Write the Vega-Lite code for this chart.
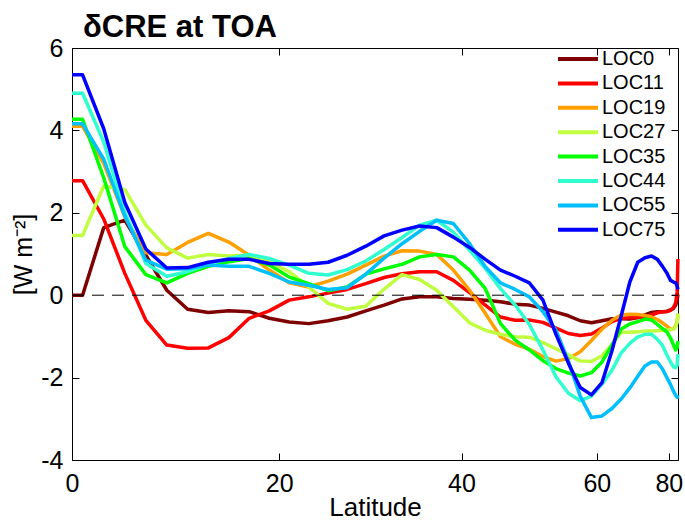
{
"$schema": "https://vega.github.io/schema/vega-lite/v6.json",
"width": 606, "height": 412,
"autosize": {"type": "none"},
"padding": {"left": 72, "top": 48, "right": 7, "bottom": 61},
"background": "white",
"title": {"text": "δCRE at TOA", "anchor": "start", "frame": "group", "dx": 11, "dy": 43, "offset": 11, "fontSize": 31, "font": "Liberation Sans", "fontWeight": "bold", "color": "black", "baseline": "alphabetic"},
"data": {"values": [
{"k":"LOC0","lat":0,"v":0.0},{"k":"LOC0","lat":1,"v":0.0},{"k":"LOC0","lat":3,"v":1.64},{"k":"LOC0","lat":5,"v":1.82},{"k":"LOC0","lat":7,"v":0.97},{"k":"LOC0","lat":9,"v":0.12},{"k":"LOC0","lat":11,"v":-0.34},{"k":"LOC0","lat":13,"v":-0.42},{"k":"LOC0","lat":15,"v":-0.38},{"k":"LOC0","lat":17,"v":-0.40},{"k":"LOC0","lat":19,"v":-0.56},{"k":"LOC0","lat":21,"v":-0.65},{"k":"LOC0","lat":23,"v":-0.69},{"k":"LOC0","lat":25,"v":-0.62},{"k":"LOC0","lat":27,"v":-0.53},{"k":"LOC0","lat":29,"v":-0.38},{"k":"LOC0","lat":31,"v":-0.24},{"k":"LOC0","lat":33,"v":-0.09},{"k":"LOC0","lat":35,"v":-0.04},{"k":"LOC0","lat":37,"v":-0.04},{"k":"LOC0","lat":39,"v":-0.08},{"k":"LOC0","lat":41,"v":-0.10},{"k":"LOC0","lat":43,"v":-0.12},{"k":"LOC0","lat":45,"v":-0.16},{"k":"LOC0","lat":47,"v":-0.22},{"k":"LOC0","lat":49,"v":-0.24},{"k":"LOC0","lat":51,"v":-0.32},{"k":"LOC0","lat":53,"v":-0.41},{"k":"LOC0","lat":55,"v":-0.50},{"k":"LOC0","lat":57,"v":-0.62},{"k":"LOC0","lat":59,"v":-0.67},{"k":"LOC0","lat":61,"v":-0.62},{"k":"LOC0","lat":63,"v":-0.57},{"k":"LOC0","lat":65,"v":-0.57},{"k":"LOC0","lat":67,"v":-0.58},{"k":"LOC0","lat":69,"v":-0.54},{"k":"LOC0","lat":71,"v":-0.48},{"k":"LOC0","lat":73,"v":-0.42},{"k":"LOC0","lat":75,"v":-0.40},{"k":"LOC0","lat":77,"v":-0.40},{"k":"LOC0","lat":79,"v":-0.39},{"k":"LOC0","lat":81,"v":-0.36},{"k":"LOC0","lat":83,"v":-0.32},{"k":"LOC0","lat":85,"v":-0.24},{"k":"LOC0","lat":87,"v":-0.12},{"k":"LOC0","lat":89,"v":0.02},
{"k":"LOC11","lat":0,"v":2.78},{"k":"LOC11","lat":1,"v":2.78},{"k":"LOC11","lat":3,"v":1.85},{"k":"LOC11","lat":5,"v":0.53},{"k":"LOC11","lat":7,"v":-0.61},{"k":"LOC11","lat":9,"v":-1.21},{"k":"LOC11","lat":11,"v":-1.29},{"k":"LOC11","lat":13,"v":-1.28},{"k":"LOC11","lat":15,"v":-1.03},{"k":"LOC11","lat":17,"v":-0.56},{"k":"LOC11","lat":19,"v":-0.38},{"k":"LOC11","lat":21,"v":-0.12},{"k":"LOC11","lat":23,"v":-0.04},{"k":"LOC11","lat":25,"v":0.05},{"k":"LOC11","lat":27,"v":0.14},{"k":"LOC11","lat":29,"v":0.28},{"k":"LOC11","lat":31,"v":0.43},{"k":"LOC11","lat":33,"v":0.52},{"k":"LOC11","lat":35,"v":0.57},{"k":"LOC11","lat":37,"v":0.57},{"k":"LOC11","lat":39,"v":0.36},{"k":"LOC11","lat":41,"v":0.06},{"k":"LOC11","lat":43,"v":-0.24},{"k":"LOC11","lat":45,"v":-0.53},{"k":"LOC11","lat":47,"v":-0.61},{"k":"LOC11","lat":49,"v":-0.60},{"k":"LOC11","lat":51,"v":-0.66},{"k":"LOC11","lat":53,"v":-0.80},{"k":"LOC11","lat":55,"v":-0.93},{"k":"LOC11","lat":57,"v":-0.98},{"k":"LOC11","lat":59,"v":-0.94},{"k":"LOC11","lat":61,"v":-0.80},{"k":"LOC11","lat":63,"v":-0.64},{"k":"LOC11","lat":65,"v":-0.56},{"k":"LOC11","lat":67,"v":-0.55},{"k":"LOC11","lat":69,"v":-0.54},{"k":"LOC11","lat":71,"v":-0.53},{"k":"LOC11","lat":73,"v":-0.48},{"k":"LOC11","lat":75,"v":-0.43},{"k":"LOC11","lat":77,"v":-0.40},{"k":"LOC11","lat":79,"v":-0.40},{"k":"LOC11","lat":81,"v":-0.37},{"k":"LOC11","lat":83,"v":-0.30},{"k":"LOC11","lat":85,"v":-0.18},{"k":"LOC11","lat":87,"v":0.08},{"k":"LOC11","lat":89,"v":0.88},
{"k":"LOC19","lat":0,"v":4.10},{"k":"LOC19","lat":1,"v":4.10},{"k":"LOC19","lat":3,"v":3.20},{"k":"LOC19","lat":5,"v":1.90},{"k":"LOC19","lat":7,"v":1.03},{"k":"LOC19","lat":9,"v":0.99},{"k":"LOC19","lat":11,"v":1.28},{"k":"LOC19","lat":13,"v":1.50},{"k":"LOC19","lat":15,"v":1.29},{"k":"LOC19","lat":17,"v":0.97},{"k":"LOC19","lat":19,"v":0.61},{"k":"LOC19","lat":21,"v":0.30},{"k":"LOC19","lat":23,"v":0.20},{"k":"LOC19","lat":25,"v":0.34},{"k":"LOC19","lat":27,"v":0.51},{"k":"LOC19","lat":29,"v":0.73},{"k":"LOC19","lat":31,"v":0.95},{"k":"LOC19","lat":33,"v":1.08},{"k":"LOC19","lat":35,"v":1.07},{"k":"LOC19","lat":37,"v":0.99},{"k":"LOC19","lat":39,"v":0.61},{"k":"LOC19","lat":41,"v":0.12},{"k":"LOC19","lat":43,"v":-0.44},{"k":"LOC19","lat":45,"v":-1.01},{"k":"LOC19","lat":47,"v":-1.19},{"k":"LOC19","lat":49,"v":-1.31},{"k":"LOC19","lat":51,"v":-1.49},{"k":"LOC19","lat":53,"v":-1.60},{"k":"LOC19","lat":55,"v":-1.54},{"k":"LOC19","lat":57,"v":-1.37},{"k":"LOC19","lat":59,"v":-1.10},{"k":"LOC19","lat":61,"v":-0.82},{"k":"LOC19","lat":63,"v":-0.61},{"k":"LOC19","lat":65,"v":-0.48},{"k":"LOC19","lat":67,"v":-0.46},{"k":"LOC19","lat":69,"v":-0.47},{"k":"LOC19","lat":71,"v":-0.49},{"k":"LOC19","lat":73,"v":-0.53},{"k":"LOC19","lat":75,"v":-0.59},{"k":"LOC19","lat":77,"v":-0.67},{"k":"LOC19","lat":79,"v":-0.75},{"k":"LOC19","lat":81,"v":-0.83},{"k":"LOC19","lat":83,"v":-0.82},{"k":"LOC19","lat":85,"v":-0.74},{"k":"LOC19","lat":87,"v":-0.63},{"k":"LOC19","lat":89,"v":-0.50},
{"k":"LOC27","lat":0,"v":1.45},{"k":"LOC27","lat":1,"v":1.45},{"k":"LOC27","lat":3,"v":2.65},{"k":"LOC27","lat":5,"v":2.56},{"k":"LOC27","lat":7,"v":1.70},{"k":"LOC27","lat":9,"v":1.15},{"k":"LOC27","lat":11,"v":0.90},{"k":"LOC27","lat":13,"v":0.99},{"k":"LOC27","lat":15,"v":0.95},{"k":"LOC27","lat":17,"v":0.97},{"k":"LOC27","lat":19,"v":0.81},{"k":"LOC27","lat":21,"v":0.57},{"k":"LOC27","lat":23,"v":0.20},{"k":"LOC27","lat":25,"v":-0.20},{"k":"LOC27","lat":27,"v":-0.34},{"k":"LOC27","lat":29,"v":-0.27},{"k":"LOC27","lat":31,"v":0.15},{"k":"LOC27","lat":33,"v":0.50},{"k":"LOC27","lat":35,"v":0.38},{"k":"LOC27","lat":37,"v":0.12},{"k":"LOC27","lat":39,"v":-0.28},{"k":"LOC27","lat":41,"v":-0.67},{"k":"LOC27","lat":43,"v":-0.85},{"k":"LOC27","lat":45,"v":-0.95},{"k":"LOC27","lat":47,"v":-1.01},{"k":"LOC27","lat":49,"v":-1.02},{"k":"LOC27","lat":51,"v":-1.15},{"k":"LOC27","lat":53,"v":-1.30},{"k":"LOC27","lat":55,"v":-1.45},{"k":"LOC27","lat":57,"v":-1.60},{"k":"LOC27","lat":59,"v":-1.61},{"k":"LOC27","lat":61,"v":-1.47},{"k":"LOC27","lat":63,"v":-1.20},{"k":"LOC27","lat":65,"v":-0.90},{"k":"LOC27","lat":67,"v":-0.90},{"k":"LOC27","lat":69,"v":-0.89},{"k":"LOC27","lat":71,"v":-0.87},{"k":"LOC27","lat":73,"v":-0.87},{"k":"LOC27","lat":75,"v":-0.86},{"k":"LOC27","lat":77,"v":-0.85},{"k":"LOC27","lat":79,"v":-0.84},{"k":"LOC27","lat":81,"v":-0.83},{"k":"LOC27","lat":83,"v":-0.82},{"k":"LOC27","lat":85,"v":-0.77},{"k":"LOC27","lat":87,"v":-0.65},{"k":"LOC27","lat":89,"v":-0.44},
{"k":"LOC35","lat":0,"v":4.27},{"k":"LOC35","lat":1,"v":4.27},{"k":"LOC35","lat":3,"v":2.85},{"k":"LOC35","lat":5,"v":1.18},{"k":"LOC35","lat":7,"v":0.50},{"k":"LOC35","lat":9,"v":0.30},{"k":"LOC35","lat":11,"v":0.53},{"k":"LOC35","lat":13,"v":0.70},{"k":"LOC35","lat":15,"v":0.81},{"k":"LOC35","lat":17,"v":0.89},{"k":"LOC35","lat":19,"v":0.73},{"k":"LOC35","lat":21,"v":0.44},{"k":"LOC35","lat":23,"v":0.28},{"k":"LOC35","lat":25,"v":0.11},{"k":"LOC35","lat":27,"v":0.20},{"k":"LOC35","lat":29,"v":0.51},{"k":"LOC35","lat":31,"v":0.64},{"k":"LOC35","lat":33,"v":0.75},{"k":"LOC35","lat":35,"v":0.93},{"k":"LOC35","lat":37,"v":0.99},{"k":"LOC35","lat":39,"v":0.93},{"k":"LOC35","lat":41,"v":0.61},{"k":"LOC35","lat":43,"v":0.16},{"k":"LOC35","lat":45,"v":-0.69},{"k":"LOC35","lat":47,"v":-1.09},{"k":"LOC35","lat":49,"v":-1.33},{"k":"LOC35","lat":51,"v":-1.59},{"k":"LOC35","lat":53,"v":-1.78},{"k":"LOC35","lat":55,"v":-1.89},{"k":"LOC35","lat":57,"v":-1.96},{"k":"LOC35","lat":59,"v":-1.88},{"k":"LOC35","lat":61,"v":-1.62},{"k":"LOC35","lat":63,"v":-1.21},{"k":"LOC35","lat":65,"v":-0.82},{"k":"LOC35","lat":67,"v":-0.70},{"k":"LOC35","lat":69,"v":-0.64},{"k":"LOC35","lat":71,"v":-0.58},{"k":"LOC35","lat":73,"v":-0.60},{"k":"LOC35","lat":75,"v":-0.71},{"k":"LOC35","lat":77,"v":-0.81},{"k":"LOC35","lat":79,"v":-0.89},{"k":"LOC35","lat":81,"v":-1.04},{"k":"LOC35","lat":83,"v":-1.21},{"k":"LOC35","lat":85,"v":-1.33},{"k":"LOC35","lat":87,"v":-1.27},{"k":"LOC35","lat":89,"v":-1.11},
{"k":"LOC44","lat":0,"v":4.90},{"k":"LOC44","lat":1,"v":4.90},{"k":"LOC44","lat":3,"v":3.72},{"k":"LOC44","lat":5,"v":2.02},{"k":"LOC44","lat":7,"v":0.77},{"k":"LOC44","lat":9,"v":0.46},{"k":"LOC44","lat":11,"v":0.57},{"k":"LOC44","lat":13,"v":0.75},{"k":"LOC44","lat":15,"v":0.89},{"k":"LOC44","lat":17,"v":0.99},{"k":"LOC44","lat":19,"v":0.89},{"k":"LOC44","lat":21,"v":0.73},{"k":"LOC44","lat":23,"v":0.53},{"k":"LOC44","lat":25,"v":0.49},{"k":"LOC44","lat":27,"v":0.62},{"k":"LOC44","lat":29,"v":0.83},{"k":"LOC44","lat":31,"v":1.11},{"k":"LOC44","lat":33,"v":1.40},{"k":"LOC44","lat":35,"v":1.70},{"k":"LOC44","lat":37,"v":1.82},{"k":"LOC44","lat":39,"v":1.53},{"k":"LOC44","lat":41,"v":1.09},{"k":"LOC44","lat":43,"v":0.65},{"k":"LOC44","lat":45,"v":0.16},{"k":"LOC44","lat":47,"v":-0.24},{"k":"LOC44","lat":49,"v":-0.71},{"k":"LOC44","lat":51,"v":-1.33},{"k":"LOC44","lat":53,"v":-1.98},{"k":"LOC44","lat":55,"v":-2.38},{"k":"LOC44","lat":57,"v":-2.56},{"k":"LOC44","lat":59,"v":-2.45},{"k":"LOC44","lat":61,"v":-2.16},{"k":"LOC44","lat":63,"v":-1.82},{"k":"LOC44","lat":65,"v":-1.40},{"k":"LOC44","lat":67,"v":-1.17},{"k":"LOC44","lat":69,"v":-1.01},{"k":"LOC44","lat":71,"v":-0.95},{"k":"LOC44","lat":73,"v":-0.95},{"k":"LOC44","lat":75,"v":-1.07},{"k":"LOC44","lat":77,"v":-1.22},{"k":"LOC44","lat":79,"v":-1.45},{"k":"LOC44","lat":81,"v":-1.62},{"k":"LOC44","lat":83,"v":-1.74},{"k":"LOC44","lat":85,"v":-1.76},{"k":"LOC44","lat":87,"v":-1.70},{"k":"LOC44","lat":89,"v":-1.43},
{"k":"LOC55","lat":0,"v":4.16},{"k":"LOC55","lat":1,"v":4.16},{"k":"LOC55","lat":3,"v":3.30},{"k":"LOC55","lat":5,"v":1.92},{"k":"LOC55","lat":7,"v":0.85},{"k":"LOC55","lat":9,"v":0.63},{"k":"LOC55","lat":11,"v":0.64},{"k":"LOC55","lat":13,"v":0.73},{"k":"LOC55","lat":15,"v":0.70},{"k":"LOC55","lat":17,"v":0.70},{"k":"LOC55","lat":19,"v":0.53},{"k":"LOC55","lat":21,"v":0.32},{"k":"LOC55","lat":23,"v":0.24},{"k":"LOC55","lat":25,"v":0.14},{"k":"LOC55","lat":27,"v":0.18},{"k":"LOC55","lat":29,"v":0.51},{"k":"LOC55","lat":31,"v":0.90},{"k":"LOC55","lat":33,"v":1.25},{"k":"LOC55","lat":35,"v":1.55},{"k":"LOC55","lat":37,"v":1.82},{"k":"LOC55","lat":39,"v":1.74},{"k":"LOC55","lat":41,"v":1.25},{"k":"LOC55","lat":43,"v":0.69},{"k":"LOC55","lat":45,"v":0.30},{"k":"LOC55","lat":47,"v":0.14},{"k":"LOC55","lat":49,"v":-0.04},{"k":"LOC55","lat":51,"v":-0.40},{"k":"LOC55","lat":53,"v":-0.85},{"k":"LOC55","lat":55,"v":-1.60},{"k":"LOC55","lat":57,"v":-2.45},{"k":"LOC55","lat":59,"v":-2.97},{"k":"LOC55","lat":61,"v":-2.93},{"k":"LOC55","lat":63,"v":-2.75},{"k":"LOC55","lat":65,"v":-2.52},{"k":"LOC55","lat":67,"v":-2.25},{"k":"LOC55","lat":69,"v":-1.97},{"k":"LOC55","lat":71,"v":-1.72},{"k":"LOC55","lat":73,"v":-1.62},{"k":"LOC55","lat":75,"v":-1.62},{"k":"LOC55","lat":77,"v":-1.79},{"k":"LOC55","lat":79,"v":-2.00},{"k":"LOC55","lat":81,"v":-2.17},{"k":"LOC55","lat":83,"v":-2.33},{"k":"LOC55","lat":85,"v":-2.43},{"k":"LOC55","lat":87,"v":-2.48},{"k":"LOC55","lat":89,"v":-2.42},
{"k":"LOC75","lat":0,"v":5.35},{"k":"LOC75","lat":1,"v":5.35},{"k":"LOC75","lat":3,"v":4.04},{"k":"LOC75","lat":5,"v":2.25},{"k":"LOC75","lat":7,"v":1.12},{"k":"LOC75","lat":9,"v":0.66},{"k":"LOC75","lat":11,"v":0.67},{"k":"LOC75","lat":13,"v":0.80},{"k":"LOC75","lat":15,"v":0.87},{"k":"LOC75","lat":17,"v":0.87},{"k":"LOC75","lat":19,"v":0.77},{"k":"LOC75","lat":21,"v":0.75},{"k":"LOC75","lat":23,"v":0.75},{"k":"LOC75","lat":25,"v":0.80},{"k":"LOC75","lat":27,"v":0.97},{"k":"LOC75","lat":29,"v":1.19},{"k":"LOC75","lat":31,"v":1.44},{"k":"LOC75","lat":33,"v":1.58},{"k":"LOC75","lat":35,"v":1.68},{"k":"LOC75","lat":37,"v":1.64},{"k":"LOC75","lat":39,"v":1.41},{"k":"LOC75","lat":41,"v":1.16},{"k":"LOC75","lat":43,"v":0.87},{"k":"LOC75","lat":45,"v":0.61},{"k":"LOC75","lat":47,"v":0.46},{"k":"LOC75","lat":49,"v":0.30},{"k":"LOC75","lat":51,"v":-0.12},{"k":"LOC75","lat":53,"v":-0.95},{"k":"LOC75","lat":55,"v":-1.65},{"k":"LOC75","lat":57,"v":-2.24},{"k":"LOC75","lat":59,"v":-2.42},{"k":"LOC75","lat":61,"v":-2.12},{"k":"LOC75","lat":63,"v":-1.35},{"k":"LOC75","lat":65,"v":-0.50},{"k":"LOC75","lat":67,"v":0.32},{"k":"LOC75","lat":69,"v":0.80},{"k":"LOC75","lat":71,"v":0.91},{"k":"LOC75","lat":73,"v":0.95},{"k":"LOC75","lat":75,"v":0.87},{"k":"LOC75","lat":77,"v":0.70},{"k":"LOC75","lat":79,"v":0.54},{"k":"LOC75","lat":81,"v":0.36},{"k":"LOC75","lat":83,"v":0.32},{"k":"LOC75","lat":85,"v":0.30},{"k":"LOC75","lat":87,"v":0.22},{"k":"LOC75","lat":89,"v":0.14}
]},
"layer": [
{
"transform": [{"calculate": "sin(datum.lat * PI / 180)", "as": "s"}],
"mark": {"type": "line", "strokeWidth": 3.5, "strokeJoin": "round"},
"encoding": {
"x": {"field": "s", "type": "quantitative", "scale": {"domain": [0, 1], "nice": false, "zero": false},
 "axis": {"orient": "bottom", "values": [0, 0.34202, 0.64279, 0.86603, 0.98481], "labelExpr": "format(asin(datum.value) * 180 / PI, '.0f')", "title": "Latitude", "titleFontSize": 26, "titleFontWeight": "normal", "titleColor": "black", "titlePadding": -2, "labelFontSize": 25, "labelColor": "black", "labelFlush": false, "labelOverlap": false, "tickSize": -7, "tickColor": "black", "domainColor": "black", "labelPadding": 18, "grid": false}},
"y": {"field": "v", "type": "quantitative", "scale": {"domain": [-4, 6], "nice": false},
 "axis": {"orient": "left", "values": [-4, -2, 0, 2, 4, 6], "labelExpr": "toString(datum.value)", "title": "[W m⁻²]", "titleFontSize": 25, "titleFontWeight": "normal", "titleColor": "black", "titleAngle": -90, "titleX": -41, "titleY": 206, "titleAlign": "center", "titleBaseline": "alphabetic", "labelFontSize": 25, "labelColor": "black", "tickSize": -7, "tickColor": "black", "domainColor": "black", "labelPadding": 16, "grid": false}},
"color": {"field": "k", "type": "nominal",
 "scale": {"domain": ["LOC0", "LOC11", "LOC19", "LOC27", "LOC35", "LOC44", "LOC55", "LOC75"], "range": ["#7f0000", "#ff0000", "#ff9f00", "#bfff3f", "#00ff00", "#30ffd0", "#00bfff", "#0000ff"]},
 "legend": {"orient": "none", "legendX": 505, "legendY": -1, "title": null, "symbolType": "M-2,0H2", "symbolSize": 400, "symbolStrokeWidth": 4, "symbolOffset": -11, "labelFontSize": 20, "labelColor": "black", "labelOffset": 12, "padding": 0, "rowPadding": 2.4}}
}
},
{
"data": {"values": [{}]},
"mark": {"type": "rule", "color": "black", "strokeWidth": 1, "strokeDash": [12, 8]},
"encoding": {
"x": {"datum": 0, "type": "quantitative", "axis": {"orient": "top", "values": [0, 0.34202, 0.64279, 0.86603, 0.98481], "labels": false, "title": null, "tickSize": -7, "tickColor": "black", "domainColor": "black", "grid": false, "minExtent": 0, "maxExtent": 0}},
"x2": {"datum": 1},
"y": {"datum": 0, "type": "quantitative", "axis": {"orient": "right", "values": [-4, -2, 0, 2, 4, 6], "labels": false, "title": null, "tickSize": -7, "tickColor": "black", "domainColor": "black", "grid": false, "minExtent": 0, "maxExtent": 0}}
}
}
],
"resolve": {"axis": {"x": "independent", "y": "independent"}},
"config": {"view": {"stroke": null}, "font": "Liberation Sans", "legend": {"labelFont": "Liberation Sans"}}
}
